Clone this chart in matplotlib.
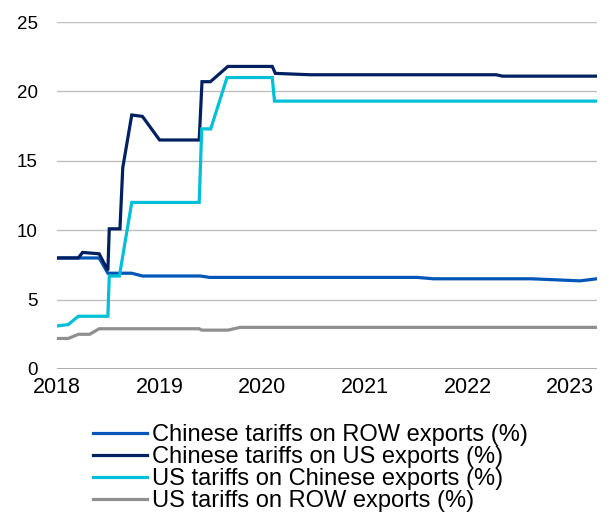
import pandas as pd
import matplotlib
matplotlib.use("Agg")
import matplotlib.pyplot as plt
import matplotlib.dates as mdates

plt.rcParams['font.family'] = ['Liberation Sans', 'DejaVu Sans']

# Chinese tariffs on ROW exports (%)
cn_row_dates = ["2018-01-01", "2018-05-31", "2018-07-01", "2018-09-24", "2018-11-01",
                "2019-05-27", "2019-06-28", "2021-07-05", "2021-09-02", "2022-08-15",
                "2022-11-28", "2023-02-05", "2023-04-06"]
cn_row_vals = [8.0, 8.0, 6.9, 6.9, 6.7, 6.7, 6.6, 6.6, 6.5, 6.5, 6.41, 6.35, 6.5]

# Chinese tariffs on US exports (%)
cn_us_dates = ["2018-01-01", "2018-03-18", "2018-04-02", "2018-05-31", "2018-07-01",
               "2018-07-06", "2018-08-13", "2018-08-23", "2018-09-24", "2018-11-01",
               "2019-01-01", "2019-05-22", "2019-06-01", "2019-07-01", "2019-09-01",
               "2020-02-06", "2020-02-17", "2020-06-21", "2022-04-13", "2022-05-05",
               "2023-04-06"]
cn_us_vals = [8.0, 8.0, 8.4, 8.3, 7.1, 10.1, 10.1, 14.5, 18.3, 18.2,
              16.5, 16.5, 20.7, 20.7, 21.8, 21.8, 21.3, 21.2, 21.2, 21.1,
              21.1]

# US tariffs on Chinese exports (%)
us_cn_dates = ["2018-01-01", "2018-02-10", "2018-03-18", "2018-07-01", "2018-07-06",
               "2018-08-11", "2018-09-24", "2019-05-22", "2019-05-31", "2019-07-02",
               "2019-08-29", "2020-02-06", "2020-02-14", "2023-04-06"]
us_cn_vals = [3.1, 3.2, 3.8, 3.8, 6.7, 6.7, 12.0, 12.0, 17.3, 17.3,
              21.0, 21.0, 19.3, 19.3]

# US tariffs on ROW exports (%)
us_row_dates = ["2018-01-01", "2018-02-10", "2018-03-18", "2018-04-27", "2018-05-31",
                "2019-05-22", "2019-05-31", "2019-09-01", "2019-10-15", "2023-04-06"]
us_row_vals = [2.2, 2.2, 2.5, 2.5, 2.9, 2.9, 2.8, 2.8, 3.0, 3.0]

labels = ["Chinese tariffs on ROW exports (%)", "Chinese tariffs on US exports (%)",
          "US tariffs on Chinese exports (%)", "US tariffs on ROW exports (%)"]
colors = ["#0057B7", "#002060", "#00BFD6", "#8F8F8F"]
years = ["2018", "2019", "2020", "2021", "2022", "2023"]

fig = plt.figure(figsize=(6.09, 5.12), dpi=100)
ax = fig.add_axes([0.0936, 0.2793, 0.8864, 0.6777])

series = [(cn_row_dates, cn_row_vals), (cn_us_dates, cn_us_vals),
          (us_cn_dates, us_cn_vals), (us_row_dates, us_row_vals)]
# draw order: grey, ROW blue, cyan, navy on top
for i in [3, 0, 2, 1]:
    d, v = series[i]
    ax.plot(pd.to_datetime(d), v, color=colors[i], lw=2.3, label=labels[i],
            solid_joinstyle='miter', zorder=3 + i)

ax.set_ylim(0, 25)
ax.set_yticks([0, 5, 10, 15, 20, 25])
ax.set_xlim(pd.Timestamp("2018-01-01"), pd.Timestamp("2023-04-06"))
ax.set_xticks(pd.to_datetime([y + "-01-01" for y in years]))
ax.xaxis.set_major_formatter(mdates.DateFormatter("%Y"))

ax.grid(axis='y', color='#BFBFBF', lw=1)
ax.axhline(0, color='#A6A6A6', lw=2, zorder=2)
for s in ax.spines.values():
    s.set_visible(False)
ax.tick_params(axis='both', length=0, colors='black')
ax.tick_params(axis='y', pad=14, labelsize=13.5)
ax.tick_params(axis='x', pad=6, labelsize=15.5)

handles, labs = ax.get_legend_handles_labels()
order = [labs.index(l) for l in labels]
fig.legend([handles[k] for k in order], labels, loc='upper left',
           bbox_to_anchor=(0.1527, 0.172), frameon=False, fontsize=17,
           handlelength=2.3, handletextpad=0.2, labelspacing=0.0,
           borderpad=0, borderaxespad=0)

fig.savefig("out.png", dpi=100)
